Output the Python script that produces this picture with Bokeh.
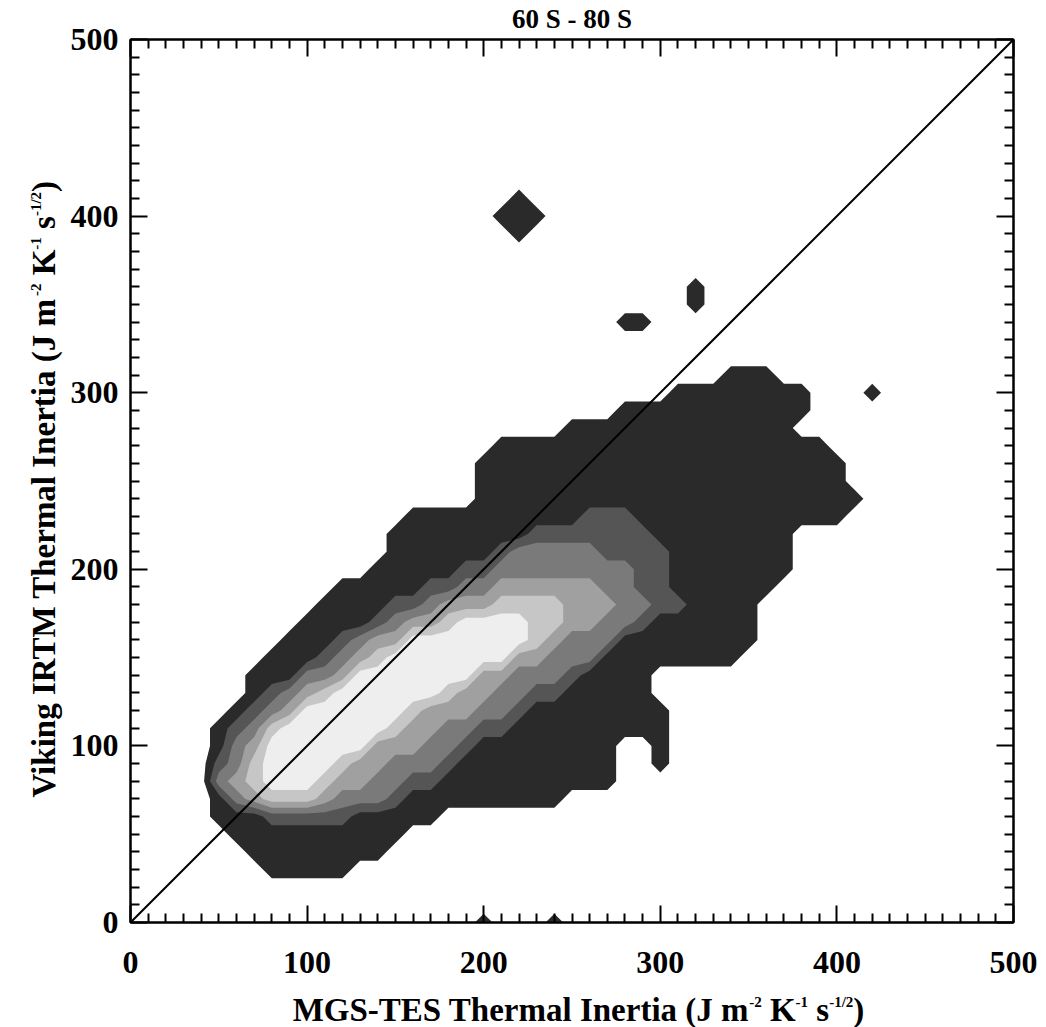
import math
import numpy as np
from bokeh.plotting import figure
from bokeh.models import Range1d, LinearAxis, FixedTicker, ColumnDataSource
from bokeh.core.properties import value
from bokeh.layouts import column, row
from bokeh.embed import file_html
from bokeh.resources import INLINE

# ------------------------------------------------------------------ data
X_START, X_END = 0, 500
Y_START, Y_END = 0, 500
MAJOR_TICKS = [0, 100, 200, 300, 400, 500]
TICK_LABELS = ["0", "100", "200", "300", "400", "500"]
MINOR_TICKS = [v for v in range(0, 501, 10) if v % 100]

# centres of the 10 x 10 bins of the 2-D histogram
BIN_X = list(range(0, 501, 10))
BIN_Y = list(range(0, 501, 10))

# density class of every bin (0 = empty ... 6 = densest).
# first string is the top row (y = 500), last string is y = 0; one character per x bin.
DENSITY_ROWS = [
    "0000000000" "0000000000" "0000000000" "0000000000" "0000000000" "0",  # 500
    "0000000000" "0000000000" "0000000000" "0000000000" "0000000000" "0",  # 490
    "0000000000" "0000000000" "0000000000" "0000000000" "0000000000" "0",  # 480
    "0000000000" "0000000000" "0000000000" "0000000000" "0000000000" "0",  # 470
    "0000000000" "0000000000" "0000000000" "0000000000" "0000000000" "0",  # 460
    "0000000000" "0000000000" "0000000000" "0000000000" "0000000000" "0",  # 450
    "0000000000" "0000000000" "0000000000" "0000000000" "0000000000" "0",  # 440
    "0000000000" "0000000000" "0000000000" "0000000000" "0000000000" "0",  # 430
    "0000000000" "0000000000" "0000000000" "0000000000" "0000000000" "0",  # 420
    "0000000000" "0000000000" "0010000000" "0000000000" "0000000000" "0",  # 410
    "0000000000" "0000000000" "0111000000" "0000000000" "0000000000" "0",  # 400
    "0000000000" "0000000000" "0010000000" "0000000000" "0000000000" "0",  # 390
    "0000000000" "0000000000" "0000000000" "0000000000" "0000000000" "0",  # 380
    "0000000000" "0000000000" "0000000000" "0000000000" "0000000000" "0",  # 370
    "0000000000" "0000000000" "0000000000" "0010000000" "0000000000" "0",  # 360
    "0000000000" "0000000000" "0000000000" "0010000000" "0000000000" "0",  # 350
    "0000000000" "0000000000" "0000000011" "0000000000" "0000000000" "0",  # 340
    "0000000000" "0000000000" "0000000000" "0000000000" "0000000000" "0",  # 330
    "0000000000" "0000000000" "0000000000" "0000000000" "0000000000" "0",  # 320
    "0000000000" "0000000000" "0000000000" "0000111000" "0000000000" "0",  # 310
    "0000000000" "0000000000" "0000000000" "0111111110" "0010000000" "0",  # 300
    "0000000000" "0000000000" "0000000011" "1111111110" "0000000000" "0",  # 290
    "0000000000" "0000000000" "0000011111" "1111111100" "0000000000" "0",  # 280
    "0000000000" "0000000000" "0111111111" "1111111111" "0000000000" "0",  # 270
    "0000000000" "0000000000" "1111111111" "1111111111" "1000000000" "0",  # 260
    "0000000000" "0000000000" "1111111111" "1111111111" "1000000000" "0",  # 250
    "0000000000" "0000000000" "1111111111" "1111111111" "1100000000" "0",  # 240
    "0000000000" "0000001111" "1111112221" "1111111111" "1000000000" "0",  # 230
    "0000000000" "0000011111" "1112222222" "1111111100" "0000000000" "0",  # 220
    "0000000000" "0000011111" "1233333222" "2111111100" "0000000000" "0",  # 210
    "0000000000" "0000111112" "2333333332" "2111111100" "0000000000" "0",  # 200
    "0000000000" "0011111223" "3444444332" "2111111000" "0000000000" "0",  # 190
    "0000000000" "0111122344" "4555544433" "2211110000" "0000000000" "0",  # 180
    "0000000000" "1111234456" "6665544332" "1111110000" "0000000000" "0",  # 170
    "0000000001" "1123446666" "6665433311" "1111110000" "0000000000" "0",  # 160
    "0000000011" "1234566666" "6644333111" "1111100000" "0000000000" "0",  # 150
    "0000000111" "3346666666" "4433321111" "0000000000" "0000000000" "0",  # 140
    "0000000123" "4566666654" "4332211111" "0000000000" "0000000000" "0",  # 130
    "0000001234" "6666665444" "3321111111" "1000000000" "0000000000" "0",  # 120
    "0000012356" "6666654433" "2211111111" "1000000000" "0000000000" "0",  # 110
    "0000013466" "6666444332" "1111111100" "1000000000" "0000000000" "0",  # 100
    "0000023566" "6654433321" "1111111100" "1000000000" "0000000000" "0",  # 90
    "0000034566" "6544332211" "1111111100" "0000000000" "0000000000" "0",  # 80
    "0000013455" "5433321111" "1111100000" "0000000000" "0000000000" "0",  # 70
    "0000011122" "2221111100" "0000000000" "0000000000" "0000000000" "0",  # 60
    "0000001111" "1111110000" "0000000000" "0000000000" "0000000000" "0",  # 50
    "0000000111" "1111100000" "0000000000" "0000000000" "0000000000" "0",  # 40
    "0000000011" "1110000000" "0000000000" "0000000000" "0000000000" "0",  # 30
    "0000000000" "0000000000" "0000000000" "0000000000" "0000000000" "0",  # 20
    "0000000000" "0000000000" "0000000000" "0000000000" "0000000000" "0",  # 10
    "0000000000" "0000000000" "1000100000" "0000000000" "0000000000" "0",  # 0
]

CONTOUR_LEVELS = [0.5, 1.5, 2.5, 3.5, 4.5, 5.5]
LEVEL_TOP = 9.0
FILL_COLORS = ["#2a2a2a", "#555555", "#7a7a7a", "#a0a0a0", "#c6c6c6", "#eeeeee"]

ONE_TO_ONE = [0, 500]

TITLE = "60 S - 80 S"
X_TITLE = [("MGS-TES Thermal Inertia (J m", False), ("-2", True), (" K", False),
           ("-1", True), (" s", False), ("-1/2", True), (")", False)]
Y_TITLE = [("Viking IRTM Thermal Inertia (J m", False), ("-2", True), (" K", False),
           ("-1", True), (" s", False), ("-1/2", True), (")", False)]

# ------------------------------------------------------------------ layout (page pixels)
W, H = 1046, 1027
F_LEFT, F_RIGHT, F_TOP, F_BOTTOM = 130, 1013, 39, 922
YT_W = 64            # strip holding the y title
XT_TOP = 988         # strip holding the x title starts here
FONT = "Liberation Serif"
TICK_SIZE = 32
TITLE_SIZE = 27
TITLE_MAIN = 33
TITLE_SUP = 15
SUP_RAISE = 14
BASE_FIX = 0.33      # text anchor correction (fraction of font size)

# Times/Liberation Serif Bold advance widths (1/1000 em)
CW = {' ': 250, '(': 333, ')': 333, '-': 333, '/': 278,
      '0': 500, '1': 500, '2': 500, '3': 500, '4': 500, '5': 500, '6': 500, '7': 500, '8': 500, '9': 500,
      'A': 722, 'E': 667, 'G': 778, 'I': 389, 'J': 500, 'K': 778, 'M': 944, 'R': 722, 'S': 556,
      'T': 667, 'V': 722, 'a': 500, 'e': 444, 'g': 500, 'h': 556, 'i': 278, 'k': 556, 'l': 278,
      'm': 833, 'n': 556, 'r': 444, 's': 389, 't': 333}


def tw(s, size):
    return sum(CW.get(c, 500) for c in s) * size / 1000.0


def total_w(parts):
    return sum(tw(t, TITLE_SUP if s else TITLE_MAIN) for t, s in parts)


# ------------------------------------------------------------------ main figure
main_w = W - YT_W
main_h = XT_TOP
p = figure(width=main_w, height=main_h,
           x_range=Range1d(X_START, X_END), y_range=Range1d(Y_START, Y_END),
           output_backend="svg", toolbar_location=None,
           min_border_left=F_LEFT - YT_W, min_border_right=W - F_RIGHT,
           min_border_top=F_TOP, min_border_bottom=XT_TOP - F_BOTTOM,
           background_fill_color="white", border_fill_color="white")
p.xgrid.visible = False
p.ygrid.visible = False
p.outline_line_color = "black"
p.outline_line_width = 2

p.title.text = TITLE
p.title.align = "center"
p.title.text_font = FONT
p.title.text_font_size = f"{TITLE_SIZE}px"
p.title.text_font_style = "bold"
p.title.text_color = "black"
p.title.standoff = 0

Z = np.array([[float(c) for c in r.ljust(len(BIN_X), "0")[:len(BIN_X)]]
              for r in DENSITY_ROWS[::-1]])

for thr, col in zip(CONTOUR_LEVELS, FILL_COLORS):
    p.contour(BIN_X, BIN_Y, Z, [thr, LEVEL_TOP], fill_color=[col])

p.line(ONE_TO_ONE, ONE_TO_ONE, line_color="black", line_width=2)


def style_axis(ax):
    ax.ticker = FixedTicker(ticks=MAJOR_TICKS, minor_ticks=MINOR_TICKS)
    ax.axis_line_color = "black"
    ax.axis_line_width = 2
    ax.major_tick_in = 17
    ax.major_tick_out = 0
    ax.minor_tick_in = 9
    ax.minor_tick_out = 0
    ax.major_tick_line_width = 2
    ax.minor_tick_line_width = 2
    ax.major_tick_line_color = "black"
    ax.minor_tick_line_color = "black"
    ax.major_label_text_font = FONT
    ax.major_label_text_font_size = f"{TICK_SIZE}px"
    ax.major_label_text_font_style = "bold"
    ax.major_label_text_color = "black"
    ax.major_label_overrides = {t: l for t, l in zip(MAJOR_TICKS, TICK_LABELS)}


bottom = p.xaxis[0]
left = p.yaxis[0]
style_axis(bottom)
style_axis(left)
bottom.major_label_standoff = 29
left.major_label_standoff = 12

top = LinearAxis()
right = LinearAxis()
for ax in (top, right):
    style_axis(ax)
    ax.major_label_overrides = {t: "" for t in MAJOR_TICKS}
    ax.major_label_text_font_size = "0px"
    ax.major_label_standoff = 0
# a tiny blank axis label on the top axis lifts the plot title a little
top.axis_label = " "
top.axis_label_text_font_size = "3px"
top.axis_label_standoff = 0
top.axis_label_text_alpha = 0
p.add_layout(top, "above")
p.add_layout(right, "right")


# ------------------------------------------------------------------ text strips
# every strip maps its data coordinates to page pixels
def strip(w, h, x0, x1, y_top, y_bottom, border_top=0, border_bottom=0):
    f = figure(width=w, height=h, x_range=Range1d(x0, x1), y_range=Range1d(y_bottom, y_top),
               output_backend="svg", toolbar_location=None,
               x_axis_location=None, y_axis_location=None,
               min_border=0, min_border_left=0, min_border_right=0,
               min_border_top=border_top, min_border_bottom=border_bottom,
               background_fill_color="white", border_fill_color="white")
    f.outline_line_color = None
    f.xgrid.visible = False
    f.ygrid.visible = False
    return f


def lay_out(parts, start, base, vertical):
    out = {False: dict(x=[], y=[], text=[]), True: dict(x=[], y=[], text=[])}
    pos = start
    for txt, sup in parts:
        size = TITLE_SUP if sup else TITLE_MAIN
        lead = len(txt) - len(txt.lstrip(" "))
        off = tw(" " * lead, size)
        b = base - (SUP_RAISE if sup else 0) - BASE_FIX * size
        if vertical:
            out[sup]["x"].append(b)
            out[sup]["y"].append(pos - off)
            pos -= tw(txt, size)
        else:
            out[sup]["x"].append(pos + off)
            out[sup]["y"].append(b)
            pos += tw(txt, size)
        out[sup]["text"].append(txt.strip(" "))
    return out


def draw_pieces(f, pieces, angle):
    for sup, d in pieces.items():
        size = TITLE_SUP if sup else TITLE_MAIN
        f.text(x="x", y="y", text="text", source=ColumnDataSource(d), angle=angle,
               text_font=value(FONT), text_font_size=value(f"{size}px"),
               text_font_style="bold", text_color="black",
               text_align="left", text_baseline="alphabetic")


# y title strip: same borders as the main figure, so its frame spans page y F_TOP..F_BOTTOM
yt = strip(YT_W, main_h, 0, YT_W, F_TOP, F_BOTTOM,
           border_top=F_TOP, border_bottom=XT_TOP - F_BOTTOM)
draw_pieces(yt, lay_out(Y_TITLE, 797, 54, vertical=True), math.pi / 2)

# x title strip
xt = strip(W, H - XT_TOP, 0, W, XT_TOP, H)
draw_pieces(xt, lay_out(X_TITLE, 578 - total_w(X_TITLE) / 2, 1020, vertical=False), 0)

layout = column(row(yt, p, spacing=0), xt, spacing=0)

open("out.html", "w").write(file_html(layout, INLINE))
